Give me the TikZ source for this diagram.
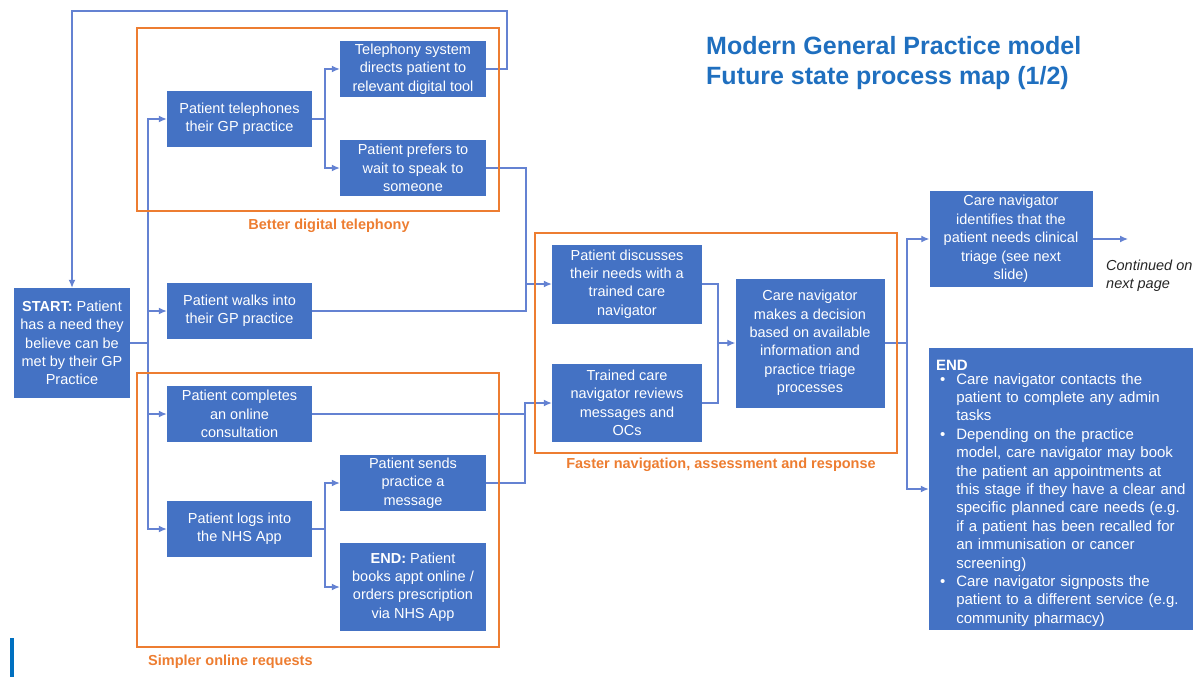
\documentclass[tikz,border=0pt]{standalone}
\usepackage{fontspec}
\setmainfont{Liberation Sans}
\usepackage{tikz}
\usetikzlibrary{arrows.meta}
\definecolor{boxblue}{HTML}{4472C4}
\definecolor{lineblue}{HTML}{6482D2}
\definecolor{frameorange}{HTML}{ED7D31}
\definecolor{titleblue}{HTML}{1F6FBF}
\definecolor{barblue}{HTML}{0070C0}

\begin{document}
\begin{tikzpicture}
    [
        x=1pt, y=-1pt, >={Latex[length=8pt, width=7pt]},
        blue_box/.style={rectangle, fill=boxblue, text=white, align=center, inner sep=1pt, font=\fontsize{14.5}{18.4}\selectfont},
        frame_box/.style={draw=frameorange, line width=2.6pt},
        frame_label/.style={text=frameorange, inner sep=0pt, font=\fontsize{14.5}{17}\selectfont\bfseries},
        flow_line/.style={draw=lineblue, line width=1.3pt},
    ]
        \useasboundingbox (0,0) rectangle (1202,677) ;
        \node[anchor=west, align=left, inner sep=0pt, text=titleblue, font=\fontsize{25}{30}\selectfont\bfseries] (title) at (706,63) {Modern General Practice model\\Future state process map (1/2)} ;
        \node[blue_box, minimum width=116, minimum height=110] (start) at (72,343) {\textbf{START:} Patient\\has a need they\\believe can be\\met by their GP\\Practice} ;
        \node[blue_box, minimum width=145, minimum height=56] (tele) at (239.5,119) {Patient telephones\\their GP practice} ;
        \node[blue_box, minimum width=146, minimum height=56] (telsys) at (413,69) {Telephony system\\directs patient to\\relevant digital tool} ;
        \node[blue_box, minimum width=146, minimum height=56] (wait) at (413,168) {Patient prefers to\\wait to speak to\\someone} ;
        \node[blue_box, minimum width=145, minimum height=56] (walk) at (239.5,311) {Patient walks into\\their GP practice} ;
        \node[blue_box, minimum width=145, minimum height=56] (online) at (239.5,414) {Patient completes\\an online\\consultation} ;
        \node[blue_box, minimum width=145, minimum height=56] (nhsapp) at (239.5,529) {Patient logs into\\the NHS App} ;
        \node[blue_box, minimum width=146, minimum height=56] (sendmsg) at (413,483) {Patient sends\\practice a\\message} ;
        \node[blue_box, minimum width=146, minimum height=88] (books) at (413,587) {\textbf{END:} Patient\\books appt online /\\orders prescription\\via NHS App} ;
        \node[blue_box, minimum width=150, minimum height=79] (discuss) at (627,284) {Patient discusses\\their needs with a\\trained care\\navigator} ;
        \node[blue_box, minimum width=150, minimum height=78] (review) at (627,403) {Trained care\\navigator reviews\\messages and\\OCs} ;
        \node[blue_box, minimum width=149, minimum height=129] (decide) at (810,343) {Care navigator\\makes a decision\\based on available\\information and\\practice triage\\processes} ;
        \node[blue_box, minimum width=163, minimum height=96] (triage) at (1011,239) {Care navigator\\identifies that the\\patient needs clinical\\triage (see next\\slide)} ;
        \node[blue_box, minimum width=264, minimum height=282, text width=250, align=left, font=\fontsize{15}{18.4}\selectfont] (endbox) at (1061,489) {\rule{0pt}{21pt}\textbf{END}\\
            \begin{tabular}{@{\hspace{4pt}}l@{\hspace{11pt}}l@{}}
                • & Care navigator contacts the\\
                  & patient to complete any admin\\
                  & tasks\\
                • & Depending on the practice\\
                  & model, care navigator may book\\
                  & the patient an appointments at\\
                  & this stage if they have a clear and\\
                  & specific planned care needs (e.g.\\
                  & if a patient has been recalled for\\
                  & an immunisation or cancer\\
                  & screening)\\
                • & Care navigator signposts the\\
                  & patient to a different service (e.g.\\
                  & community pharmacy)
            \end{tabular}} ;
        \node[anchor=west, align=left, inner sep=0pt, text=black!85, font=\fontsize{14.5}{18.4}\selectfont\itshape] (cont) at (1106,276) {Continued on\\next page} ;
        \coordinate (loop) at (507,11) ;
        \coordinate (trunk) at (148,343) ;
        \coordinate (forkA) at (325,119) ;
        \coordinate (forkB) at (325,529) ;
        \coordinate (busA) at (526,284) ;
        \coordinate (busB) at (525,403) ;
        \coordinate (busC) at (718,343) ;
        \coordinate (busD) at (907,343) ;
        \coordinate (next) at (1128,239) ;
        \draw[->, flow_line] (telsys.east) -| (loop) -| (start.north) ;
        \draw[flow_line] (start.east) -- (trunk) ;
        \foreach \n in {tele, walk, online, nhsapp}
            \draw[->, flow_line] (trunk) |- (\n.west) ;
        \draw[flow_line] (tele.east) -- (forkA) ;
        \draw[->, flow_line] (forkA) |- (telsys.west) ;
        \draw[->, flow_line] (forkA) |- (wait.west) ;
        \draw[flow_line] (nhsapp.east) -- (forkB) ;
        \draw[->, flow_line] (forkB) |- (sendmsg.west) ;
        \draw[->, flow_line] (forkB) |- (books.west) ;
        \draw[->, flow_line] (wait.east) -| (busA) -- (discuss.west) ;
        \draw[flow_line] (walk.east) -| (busA) ;
        \draw[flow_line] (online.east) -| (busB) ;
        \draw[->, flow_line] (sendmsg.east) -| (busB) -- (review.west) ;
        \draw[flow_line] (discuss.east) -| (busC) ;
        \draw[flow_line] (review.east) -| (busC) ;
        \draw[->, flow_line] (busC) -- (decide.west) ;
        \draw[flow_line] (decide.east) -- (busD) ;
        \draw[->, flow_line] (busD) |- (triage.west) ;
        \draw[->, flow_line] (busD) |- (endbox.west) ;
        \draw[->, flow_line] (triage.east) -- (next) ;
        \draw[frame_box] (137,28) rectangle (499,211) ;
        \draw[frame_box] (137,373) rectangle (499,647) ;
        \draw[frame_box] (535,233) rectangle (897,453) ;
        \node[frame_label] (telLabel) at (329,226) {Better digital telephony} ;
        \node[frame_label, anchor=west] (onlineLabel) at (148,662) {Simpler online requests} ;
        \node[frame_label] (fastLabel) at (721,465) {Faster navigation, assessment and response} ;
        \fill[barblue] (10,638) rectangle (14,677) ;
    \end{tikzpicture}
\end{document}
